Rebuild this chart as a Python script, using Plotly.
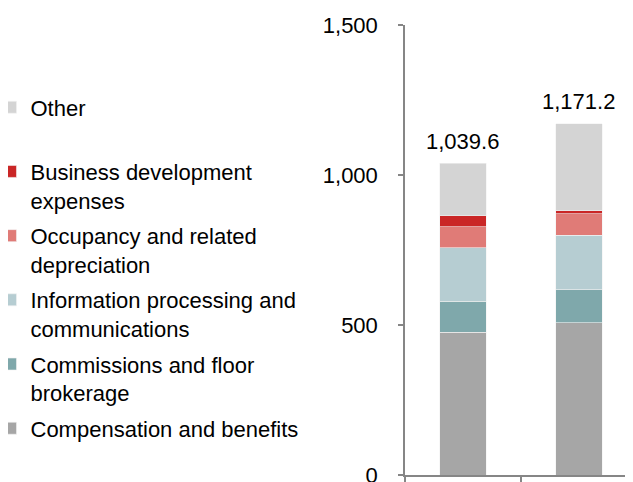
import plotly.graph_objects as go

categories = ["A", "B"]
compensation = [476.0, 507.7]
commissions = [104.0, 110.0]
info_processing = [178.0, 182.2]
occupancy = [69.0, 71.0]
business_dev = [37.0, 10.0]
other = [175.6, 290.3]
totals = [1039.6, 1171.2]
total_labels = ["1,039.6", "1,171.2"]

series = [
    ("Compensation and benefits", compensation, "#A6A6A6"),
    ("Commissions and floor<br>brokerage", commissions, "#7FA8AB"),
    ("Information processing and<br>communications", info_processing, "#B6CDD2"),
    ("Occupancy and related<br>depreciation", occupancy, "#E07B77"),
    ("Business development<br>expenses", business_dev, "#CA2626"),
    ("Other<br>\u00a0", other, "#D4D4D4"),
]

fig = go.Figure()
n = len(series)
for i, (name, vals, color) in enumerate(series):
    fig.add_trace(go.Bar(
        x=categories, y=vals, name=name, width=0.4,
        legendrank=n - i, legendgroup=f"g{i}",
        marker=dict(color=color, line=dict(color="#F2F2F2", width=0.6)),
        hoverinfo="skip",
    ))

for c, t, lab in zip(categories, totals, total_labels):
    fig.add_annotation(
        x=c, y=t, text=lab, showarrow=False, xanchor="center",
        yanchor="middle", yshift=22,
        font=dict(size=22, color="#000000"),
    )

fig.update_layout(
    width=625, height=474,
    margin=dict(l=397, r=0, t=16.5, b=7, autoexpand=False),
    barmode="stack",
    plot_bgcolor="white", paper_bgcolor="white",
    font=dict(family="Liberation Sans, Arial, sans-serif", size=22, color="#000000"),
    showlegend=True,
    legend=dict(
        x=-1.818, xanchor="left", y=0.8635, yanchor="top",
        traceorder="grouped", tracegroupgap=4, valign="top",
        font=dict(size=22), bgcolor="rgba(0,0,0,0)",
        itemclick=False,
    ),
    xaxis=dict(
        range=[-0.5, 1.466], showticklabels=False, showgrid=False,
        showline=True, linecolor="#868686", linewidth=1.5,
        ticks="outside", ticklen=5, tickcolor="#868686", tickwidth=1.5,
        tickson="boundaries", zeroline=False, fixedrange=True,
        automargin=False,
    ),
    yaxis=dict(
        range=[0, 1500], tickvals=[0, 500, 1000, 1500],
        tickformat=",", showgrid=False, zeroline=False,
        showline=True, linecolor="#868686", linewidth=1.5,
        ticks="outside", ticklen=5, tickcolor="#868686", tickwidth=1.5,
        ticklabelstandoff=16, fixedrange=True, automargin=False,
        ticklabeloverflow="allow",
    ),
)

fig.write_html("out.html")
